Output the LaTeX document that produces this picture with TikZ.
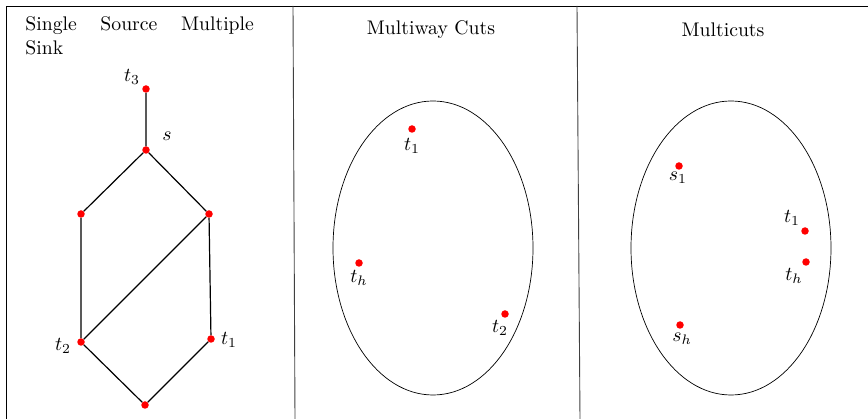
\documentclass[tikz,border=0pt]{standalone}
\begin{document}
\begin{tikzpicture}[x=1pt,y=-1pt,
  dot/.style={circle,fill=red,inner sep=0pt,minimum size=7.5pt},
  lbl/.style={inner sep=0pt,scale=1.97},
  title/.style={inner sep=0pt,scale=1.97,anchor=base},
  frame/.style={line width=0.9pt},
  divider/.style={line width=0.9pt,black!75},
  edge/.style={line width=1.2pt},
  blob/.style={line width=0.7pt}]
\useasboundingbox (0,0) rectangle (868,419);
% frame
\draw[frame] (6,419) -- (6,6) -- (868,6);
\draw[divider] (293,6) -- (295,419);
\draw[divider] (577,6) -- (580,419);
% titles
\node[inner sep=0pt,scale=1.97,anchor=north west,text width=116pt,align=justify] (ttl1) at (25,16.5) {Single Source Multiple Sink};
\node[title] (ttl2) at (431,35) {Multiway Cuts};
\node[title] (ttl3) at (723,37) {Multicuts};
% left graph
\node[dot] (t3) at (146,89) {};
\node[dot] (s) at (146,150) {};
\node[dot] (ul) at (81,214) {};
\node[dot] (ur) at (209,214) {};
\node[dot] (t2) at (81,342) {};
\node[dot] (t1) at (211,339) {};
\node[dot] (b) at (145,405) {};
\draw[edge] (t3) -- (s) (s) -- (ul) (s) -- (ur) (ul) -- (t2) (ur) -- (t2)
  (ur) -- (t1) (t2) -- (b) (t1) -- (b);
\node[lbl] (lt3) at (132,77) {$t_3$};
\node[lbl] (ls) at (167,136) {$s$};
\node[lbl] (lt2) at (63,346) {$t_2$};
\node[lbl] (lt1) at (229,340) {$t_1$};
% middle panel
\draw[blob] (433,248) ellipse [x radius=100, y radius=147];
\node[dot] (m1) at (412,129) {};
\node[dot] (mh) at (359,263) {};
\node[dot] (m2) at (505,314) {};
\node[lbl] (lm1) at (412,146) {$t_1$};
\node[lbl] (lmh) at (359,278) {$t_h$};
\node[lbl] (lm2) at (500,328) {$t_2$};
% right panel
\draw[blob] (731,248) ellipse [x radius=100, y radius=147];
\node[dot] (rs1) at (679,166) {};
\node[dot] (rt1) at (805,231) {};
\node[dot] (rth) at (806,262) {};
\node[dot] (rsh) at (680,325) {};
\node[lbl] (lrs1) at (678,178) {$s_1$};
\node[lbl] (lrt1) at (792,218) {$t_1$};
\node[lbl] (lrth) at (794,276) {$t_h$};
\node[lbl] (lrsh) at (682,339) {$s_h$};
\end{tikzpicture}
\end{document}
